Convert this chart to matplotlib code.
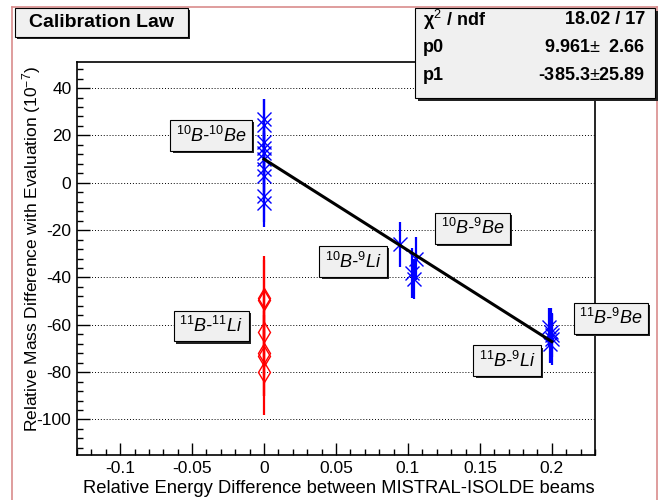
import matplotlib
matplotlib.use('Agg')
import matplotlib.pyplot as plt
from matplotlib.ticker import MultipleLocator, FuncFormatter
from matplotlib.patches import Rectangle
from matplotlib.lines import Line2D
import matplotlib.patheffects as pe
import numpy as np

plt.rcParams['font.family'] = ['Liberation Sans', 'DejaVu Sans']
plt.rcParams['mathtext.fontset'] = 'custom'
plt.rcParams['mathtext.rm'] = 'Liberation Sans'
plt.rcParams['mathtext.it'] = 'Liberation Sans:italic'
plt.rcParams['mathtext.bf'] = 'Liberation Sans:bold'
plt.rcParams['axes.unicode_minus'] = False

# ---------------- data ----------------
blue_x = [0, 0, 0, 0, 0, 0, 0, 0, 0, 0,
          0.0946, 0.1055, 0.103, 0.104,
          0.198, 0.1995, 0.2, 0.2, 0.1985]
blue_y = [27, 24.5, 17, 14.5, 12.5, 10, 6, 3, -5.5, -8.5,
          -26, -32, -38, -40.5,
          -61, -63, -64.5, -66, -68]
blue_err = [8.5, 11, 10, 10.5, 9.5, 11, 10, 10, 11, 10.3,
            9.5, 9, 10.5, 8.5,
            8, 10, 9, 11, 8]

red_x = [0, 0, 0, 0, 0, 0]
red_y = [-48.5, -49.5, -63, -72, -73, -80]
red_err = [17.7, 17, 18, 18, 17, 17.9]

fit_p0 = 9.961
fit_p1 = -385.3

label_texts = [r'$^{\mathit{10}}B$-$^{\mathit{10}}Be$',
               r'$^{\mathit{10}}B$-$^{\mathit{9}}Be$',
               r'$^{\mathit{10}}B$-$^{\mathit{9}}Li$',
               r'$^{\mathit{11}}B$-$^{\mathit{11}}Li$',
               r'$^{\mathit{11}}B$-$^{\mathit{9}}Be$',
               r'$^{\mathit{11}}B$-$^{\mathit{9}}Li$']
label_x = [-0.0367, 0.1449, 0.062, -0.0367, 0.241, 0.169]
label_y = [19.9, -19.3, -33.3, -60.5, -57.2, -75.2]

stats_names = ['χ$^{2}$ / ndf', 'p0', 'p1']
stats_values = ['18.02 / 17', '9.961$\\pm$  2.66', '-385.3$\\pm$25.89']

title_text = 'Calibration Law'
xlabel_text = 'Relative Energy Difference between MISTRAL-ISOLDE beams'
ylabel_text = 'Relative Mass Difference with Evaluation (10$^{-7}$)'

# ---------------- figure ----------------
W, H = 662, 500
fig = plt.figure(figsize=(W / 100, H / 100), dpi=100)


def fx(px):
    return px / W


def fy(py):
    return 1 - py / H


pink = '#d98c8c'
for xs, ys in [([12, 12], [7, 500]), ([12, 657], [7, 7]), ([657, 657], [7, 500])]:
    fig.add_artist(Line2D([fx(v) for v in xs], [fy(v) for v in ys],
                          color=pink, lw=1.2, zorder=0))

ax = fig.add_axes([fx(77), fy(455), (595 - 77) / W, (455 - 62) / H])
ax.set_xlim(-0.13, 0.23)
ax.set_ylim(-115, 51)

ax.yaxis.grid(True, which='major', linestyle=(0, (1, 2)), color='black', lw=0.7)
ax.set_axisbelow(True)

ax.errorbar(red_x, red_y, yerr=red_err, fmt='d', color='red', mfc='none',
            ms=10.5, mew=1.0, elinewidth=1.6, capsize=0, zorder=3)
ax.errorbar(blue_x, blue_y, yerr=blue_err, fmt='x', color='blue',
            ms=9.5, mew=1.0, elinewidth=1.6, capsize=0, zorder=3)

fx_line = np.array([min(blue_x), max(blue_x)])
ax.plot(fx_line, fit_p0 + fit_p1 * fx_line, color='black', lw=2.2, zorder=4)

for s, x, y in zip(label_texts, label_x, label_y):
    t = ax.text(x, y, s, ha='center', va='center', fontsize=13, style='italic',
                bbox=dict(boxstyle='square,pad=0.3', fc='#f0f0f0', ec='black', lw=0.8),
                clip_on=False, zorder=6)
    t.get_bbox_patch().set_path_effects([
        pe.SimplePatchShadow(offset=(1.6, -1.6), shadow_rgbFace='#222222', alpha=1.0),
        pe.Normal()])

ax.xaxis.set_major_locator(MultipleLocator(0.05))
ax.xaxis.set_minor_locator(MultipleLocator(0.01))
ax.yaxis.set_major_locator(MultipleLocator(20))
ax.yaxis.set_minor_locator(MultipleLocator(4))


def fmt(v, p):
    s = f'{v:g}'
    return '0' if s in ('-0', '0') else s


ax.xaxis.set_major_formatter(FuncFormatter(fmt))
ax.yaxis.set_major_formatter(FuncFormatter(fmt))
ax.tick_params(which='both', direction='in', top=False, right=False, labelsize=12.5, width=1)
ax.tick_params(which='major', length=9)
ax.tick_params(which='minor', length=4.5)
ax.tick_params(axis='x', pad=4)
ax.tick_params(axis='y', pad=4)
for sp in ax.spines.values():
    sp.set_linewidth(1.2)

ax.set_xlabel(xlabel_text, fontsize=13.2, loc='right')
ax.xaxis.set_label_coords(1.0, -0.063)
ax.xaxis.label.set_va('top')
ax.set_ylabel(ylabel_text, fontsize=12.5, loc='top')
ax.yaxis.set_label_coords(-0.066, 0.99)


def pave(x0, y0, x1, y1, sh=3):
    fig.add_artist(Rectangle((fx(x0 + sh), fy(y1 + sh)), (x1 - x0) / W, (y1 - y0) / H,
                             transform=fig.transFigure, fc='#222222', ec='none', zorder=8))
    fig.add_artist(Rectangle((fx(x0), fy(y1)), (x1 - x0) / W, (y1 - y0) / H,
                             transform=fig.transFigure, fc='#f0f0f0', ec='black',
                             lw=0.8, zorder=9))


# title box
pave(15, 8, 188, 37, sh=2)
fig.text(fx(101.5), fy(22.5), title_text, ha='center', va='center',
         fontsize=14, fontweight='bold', zorder=10)

# stats box
pave(415, 8, 655, 98, sh=3)
rows_y = [20, 48, 76]
for name, val, ry in zip(stats_names, stats_values, rows_y):
    fig.text(fx(423), fy(ry), name, ha='left', va='center', fontsize=13,
             fontweight='bold', zorder=10)
    fig.text(fx(645), fy(ry), val, ha='right', va='center', fontsize=13,
             fontweight='bold', zorder=10)

fig.savefig('out.png', dpi=100)
